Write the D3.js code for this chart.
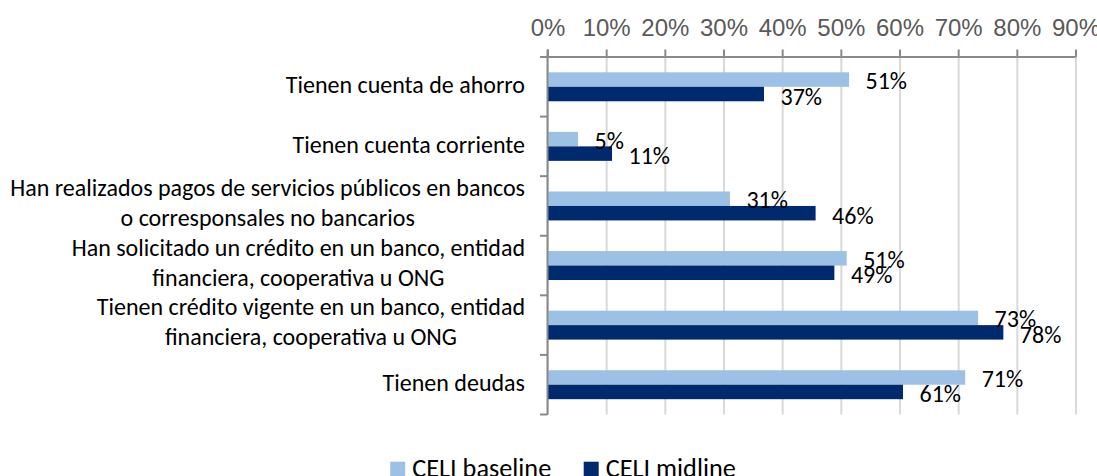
<!DOCTYPE html>
<html>
<head>
<meta charset="utf-8">
<script src="https://cdn.jsdelivr.net/npm/d3@7"></script>
<style>
  body { margin: 0; background: #fff; }
  svg { display: block; font-family: Carlito, Calibri, Lato, "Open Sans", sans-serif; }
</style>
</head>
<body>
<div id="content"></div>
<script>
const w = 1097
const h = 476

// chart values
const categories = [
  "Tienen cuenta de ahorro",
  "Tienen cuenta corriente",
  "Han realizados pagos de servicios públicos en bancos\no corresponsales no bancarios",
  "Han solicitado un crédito en un banco, entidad\nfinanciera, cooperativa u ONG",
  "Tienen crédito vigente en un banco, entidad\nfinanciera, cooperativa u ONG",
  "Tienen deudas"
];
const baseline = [51.4, 5.2, 31.1, 51.0, 73.4, 71.2];
const midline  = [36.9, 11.0, 45.7, 48.9, 77.7, 60.6];
const seriesNames = ["CELI baseline", "CELI midline"];
const xTicks = [0, 10, 20, 30, 40, 50, 60, 70, 80, 90];

const colors = ["#9dc0e5", "#002a6e"];

let svg = d3.select("#content")
  .append("svg")
  .attr("width", w)
  .attr("height", h)

// fit the font size so the longest label has the width it has in the reference
let probe = svg.append("text").attr("font-size", 24)
  .text("Han realizados pagos de servicios públicos en bancos");
let fs = 24 * 515 / probe.node().getComputedTextLength();
probe.text("CELI baseline");
let legFs = 24 * 139 / probe.node().getComputedTextLength();
probe.remove();

let x = d3.scaleLinear()
  .domain([0, 90])
  .range([547.5, 1075.5]);

let y = d3.scaleBand()
  .domain(categories)
  .range([57, 414.5])
  .padding(0);

let bw = y.bandwidth();
let sub = d3.scaleBand()
  .domain(seriesNames)
  .range([bw * 0.257, bw * 0.743]);

// vertical gridlines
svg.append("g")
  .attr("transform", "translate(0," + y.range()[0] + ")")
  .call(d3.axisTop(x).tickValues(xTicks).tickSize(-(y.range()[1] - y.range()[0])).tickFormat(""))
  .call(g => g.select(".domain").remove())
  .call(g => g.selectAll("line").attr("stroke", "#d9d9d9").attr("stroke-width", 2));

// bars
let rows = categories.map((c, i) => ({cat: c, vals: [baseline[i], midline[i]]}));

let grp = svg.selectAll("g.row")
  .data(rows)
  .enter()
  .append("g")
  .attr("class", "row")
  .attr("transform", d => "translate(0," + y(d.cat) + ")");

grp.selectAll("rect")
  .data(d => d.vals.map((v, j) => ({v: v, s: seriesNames[j], j: j})))
  .enter()
  .append("rect")
  .attr("x", x(0))
  .attr("y", d => sub(d.s))
  .attr("width", d => x(d.v) - x(0))
  .attr("height", sub.bandwidth())
  .attr("fill", d => colors[d.j]);

// data labels
grp.selectAll("text.lab")
  .data(d => d.vals.map((v, j) => ({v: v, s: seriesNames[j], j: j})))
  .enter()
  .append("text")
  .attr("class", "lab")
  .attr("x", d => x(d.v) + 16.5)
  .attr("y", d => sub(d.s) + sub.bandwidth() / 2 + (d.j === 0 ? 9.5 : 10.5))
  .attr("font-size", fs)
  .attr("fill", "#000")
  .text(d => Math.round(d.v) + "%");

// top axis
let xAxis = svg.append("g")
  .attr("transform", "translate(0," + y.range()[0] + ")")
  .call(d3.axisTop(x).tickValues(xTicks).tickSize(7.5).tickPadding(13).tickFormat(d => d + "%"));
xAxis.select(".domain").attr("stroke", "#898989").attr("stroke-width", 2)
  .attr("d", "M" + (x(0) - 7.5) + ",0H" + x(90));
xAxis.selectAll("line").attr("stroke", "#898989").attr("stroke-width", 2);
xAxis.selectAll("text")
  .attr("font-size", fs)
  .attr("font-family", null)
  .attr("fill", "#595959")
  .attr("dy", null)
  .attr("y", 36 - y.range()[0]);

// left axis with ticks at band boundaries
let bounds = categories.map(c => y(c)).concat([y.range()[1]]);
let yAxis = svg.append("g").attr("stroke", "#898989").attr("stroke-width", 2);
yAxis.append("line")
  .attr("x1", x(0)).attr("x2", x(0))
  .attr("y1", y.range()[0] - 7.5).attr("y2", y.range()[1]);
yAxis.selectAll("line.tk")
  .data(bounds)
  .enter()
  .append("line")
  .attr("class", "tk")
  .attr("x1", x(0) - 7.5).attr("x2", x(0))
  .attr("y1", d => d).attr("y2", d => d);

// category labels: block right aligned at 525, lines centered within the block
categories.forEach(c => {
  let lines = c.split("\n");
  let t = svg.append("text")
    .attr("font-size", fs)
    .attr("fill", "#000")
    .attr("text-anchor", "middle");
  let cy = y(c) + bw / 2;
  let spans = lines.map((l, i) => t.append("tspan")
    .attr("y", cy + 6.7 - 16.4 * (lines.length - 1) + 30 * i)
    .text(l));
  let maxW = d3.max(spans, s => s.node().getComputedTextLength());
  spans.forEach(s => s.attr("x", 525 - maxW / 2));
});

// legend
let leg = svg.append("g");
let items = seriesNames.map((n, i) => {
  let g = leg.append("g");
  g.append("rect").attr("width", 15).attr("height", 15).attr("y", 461.7).attr("fill", colors[i]);
  let t = g.append("text").attr("x", 22).attr("y", 476.5).attr("font-size", legFs).attr("fill", "#000").text(n);
  return {g: g, w: 22 + t.node().getComputedTextLength()};
});
let gap = 32.5;
let total = d3.sum(items, d => d.w) + gap * (items.length - 1);
let lx = 563 - total / 2;
items.forEach(it => {
  it.g.attr("transform", "translate(" + lx + ",0)");
  lx += it.w + gap;
});
</script>
</body>
</html>
